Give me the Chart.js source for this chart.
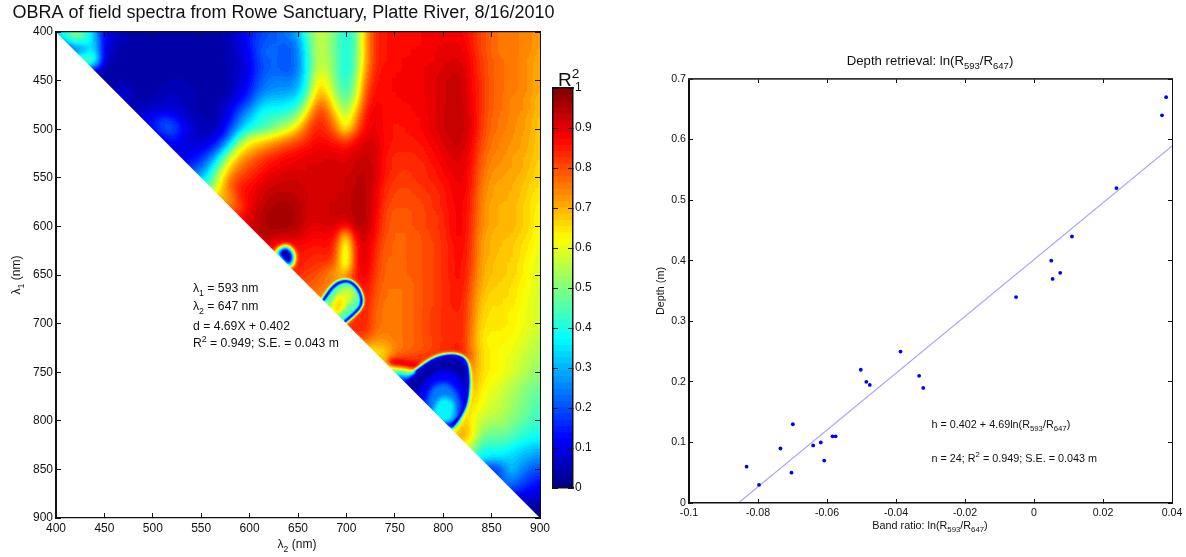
<!DOCTYPE html>
<html><head><meta charset="utf-8">
<style>
html,body{margin:0;padding:0;background:#fff;width:1186px;height:557px;overflow:hidden}
canvas{position:absolute;top:0;display:block}
</style>
<script src="https://cdn.jsdelivr.net/npm/chart.js"></script>
</head><body>
<canvas id="heat" width="567" height="557" style="left:0"></canvas>
<canvas id="bar" width="70" height="557" style="left:540px"></canvas>
<canvas id="fit" width="546" height="557" style="left:640px"></canvas>
<script>
const r400=[30,45,55,45,30,12,8,5,4,3,3,3,3,3,3,3,3,4,6,10,14,18,20,22,25,30,45,58,55,48,38,45,70,84,86,87,87,87,88,88,88,89,88,85,81,78,76,76,75,74,72];
const r410=[30,45,42,35,12,7,5,4,3,3,3,3,3,3,3,3,4,6,9,14,19,21,22,22,26,42,57,55,47,38,45,70,84,86,87,87,87,88,88,89,89,89,85,81,78,76,76,75,74,72];
const r420=[15,25,38,10,5,4,3,3,3,3,3,3,3,3,3,4,5,8,12,20,23,22,20,24,40,57,55,47,38,45,70,84,86,87,87,88,88,89,90,90,90,86,81,78,76,76,75,74,71];
const r430=[55,50,8,4,3,3,3,3,3,3,3,3,3,3,4,5,7,11,19,22,22,20,24,39,57,56,47,38,46,71,84,86,87,88,88,89,89,90,91,91,87,82,79,77,76,75,73,71];
const r440=[12,3,3,3,3,3,3,3,3,3,3,3,3,3,5,7,10,18,22,22,20,24,38,58,58,47,37,47,73,85,87,87,88,89,89,90,91,92,92,87,82,79,77,76,75,73,70];
const r450=[3,3,3,3,3,3,3,5,5,4,3,3,3,5,8,12,20,24,25,24,27,40,64,62,48,40,50,76,86,87,88,89,89,89,90,92,93,93,88,83,79,77,76,75,73,70];
const r460=[5,8,4,3,4,5,6,6,5,4,3,4,5,9,14,22,26,27,27,30,42,68,65,50,42,52,80,87,87,88,89,89,89,90,92,93,93,88,83,79,77,76,75,73,70];
const r470=[10,5,4,5,6,7,6,5,4,4,4,7,12,18,28,32,32,33,36,50,74,72,55,45,58,82,88,87,87,88,88,89,90,92,93,93,89,83,79,77,75,74,72,69];
const r480=[5,6,7,8,8,7,5,4,4,5,10,18,25,35,38,38,40,44,62,80,78,62,50,65,85,89,87,87,87,88,89,90,92,94,93,89,83,79,77,75,74,72,69];
const r490=[10,13,18,16,10,7,5,4,6,13,24,33,40,43,45,47,55,72,84,82,70,55,72,87,90,87,86,87,87,88,90,92,94,93,90,82,78,76,75,73,71,68];
const r500=[12,20,23,14,8,6,5,8,18,30,38,42,46,52,58,68,80,85,84,76,60,78,88,90,87,86,86,87,88,90,92,94,93,90,82,78,76,74,73,71,68];
const r510=[10,16,11,8,7,8,13,26,45,58,62,65,70,74,78,83,87,86,83,78,86,90,91,87,86,86,86,87,89,91,93,93,89,81,77,75,74,72,70,68];
const r520=[9,9,9,10,14,24,42,60,68,72,76,80,83,85,87,89,89,88,87,90,92,92,87,85,85,85,86,88,90,92,92,88,80,76,75,73,72,70,67];
const r530=[10,12,16,24,38,58,70,76,80,84,86,88,89,90,90,91,91,90,92,93,92,86,84,83,84,85,87,89,91,91,87,79,75,74,72,71,69,67];
const r540=[16,22,33,50,68,76,81,84,87,89,90,90,91,91,91,91,91,93,94,92,86,84,83,83,84,86,88,90,91,86,78,74,73,72,71,69,66];
const r550=[30,42,60,75,81,84,87,90,91,92,92,91,91,92,92,92,94,94,92,85,83,82,83,84,85,87,89,90,85,77,73,72,71,70,68,66];
const r560=[45,65,78,85,87,90,92,93,93,93,92,92,92,92,92,94,95,91,84,82,81,82,83,84,86,88,90,85,76,72,71,71,69,67,65];
const r570=[68,72,85,88,91,94,95,95,94,92,92,92,92,93,95,95,90,83,81,80,81,82,83,85,88,89,84,75,72,71,70,69,66,64];
const r580=[75,80,89,93,95,96,96,95,92,91,92,93,93,95,95,90,82,80,80,80,81,83,85,87,89,84,75,71,70,70,68,66,63];
const r590=[85,90,94,96,97,97,95,92,91,92,93,92,95,95,89,81,79,79,80,81,82,84,87,89,83,74,71,70,70,68,66,62];
const r600=[90,94,96,97,97,95,91,90,91,91,88,94,95,88,81,79,79,80,81,82,84,87,89,83,74,71,70,70,68,66,62];
const r610=[94,95,93,92,92,89,88,89,88,62,92,93,87,80,78,78,79,80,82,83,87,89,82,73,70,69,69,67,65,61];
const r620=[90,86,86,88,87,86,87,84,52,88,92,85,79,78,78,79,80,81,83,86,88,82,72,70,69,68,66,64,60];
const r630=[86,86,86,85,84,85,82,50,88,92,84,79,78,78,79,80,81,83,86,88,81,72,70,68,68,66,63,60];
const r640=[86,86,84,83,82,78,52,88,91,83,78,77,78,79,80,81,83,86,87,81,71,69,68,67,65,62,59];
const r650=[84,82,80,76,70,70,86,90,82,78,77,78,79,80,81,83,86,87,80,71,69,68,67,65,62,59];
const r660=[80,78,76,76,78,85,88,81,77,77,77,78,80,81,83,85,87,79,70,68,67,66,64,61,59];
const r670=[76,74,76,78,84,87,80,77,76,77,78,80,81,83,85,86,78,69,67,66,66,63,61,58];
const r680=[74,76,78,84,86,79,76,76,77,78,80,81,83,85,86,77,68,66,66,65,63,60,58];
const r690=[75,78,84,86,78,76,76,77,78,80,82,83,84,85,77,67,65,65,64,62,60,58];
const r700=[80,84,85,78,76,76,77,78,80,82,83,84,85,76,66,65,65,64,62,60,58];
const r710=[84,84,77,75,76,77,78,80,82,83,84,85,75,65,64,64,63,61,59,57];
const r720=[76,72,73,75,77,78,80,81,83,84,85,74,65,63,63,62,60,58,55];
const r730=[63,65,74,77,79,80,82,84,85,86,76,66,64,62,61,59,56,54];
const r740=[72,86,87,85,85,85,85,85,85,76,66,64,62,60,58,55,53];
const r750=[40,48,42,75,78,78,78,78,78,74,66,64,62,60,57,54,51];
const r760=[10,5,40,40,40,60,72,72,65,62,60,57,54,51,50];
const r770=[8,12,15,15,40,68,70,63,60,58,55,52,49,47];
const r780=[25,30,35,30,66,68,62,59,57,54,51,48,45];
const r790=[40,40,30,68,66,60,58,56,53,50,47,43];
const r800=[35,20,72,62,57,55,54,51,48,45,42];
const r810=[60,74,65,53,50,50,48,44,42,40];
const r820=[72,62,47,46,46,44,41,38,36];
const r830=[55,40,40,40,37,34,32,30];
const r840=[38,33,33,33,30,28,25];
const r850=[15,20,33,27,22,20];
const r860=[20,28,22,18,15];
const r870=[20,18,13,11];
const r880=[8,8,7];
const r890=[3,3];
const r900=[2];
const mapRows=[r400,r410,r420,r430,r440,r450,r460,r470,r480,r490,r500,r510,r520,r530,r540,r550,r560,r570,r580,r590,r600,r610,r620,r630,r640,r650,r660,r670,r680,r690,r700,r710,r720,r730,r740,r750,r760,r770,r780,r790,r800,r810,r820,r830,r840,r850,r860,r870,r880,r890,r900];

// Sharp low-R2 pockets, traced on the map as [lambda2],[lambda1] outlines with their R2 level
const pocketA_x=[627,637,644,645,641,628,627], pocketA_y=[627,621,626,635,641,628,627], pocketA_v=2;
const pocketB_x=[676,686.5,697,707,715,714,698.6,690,676], pocketB_y=[676,662,656.4,659,671,683,698,700,676], pocketB_v=45;
const pocketB2_x=[683,691,699,707,708,698,690,682,683], pocketB2_y=[682,668,663,666,674,684,692,690,682], pocketB2_v=58;
const pocketB3_x=[686,694,698,694,688,686], pocketB3_y=[679,672,680,688,689,679], pocketB3_v=66;
const ringB_x=[676,686.5,697,707,715,714,698.6], ringB_y=[676,662,656.4,659,671,683,698];
const ridgeC_x=[746,760,774], ridgeC_y=[740,742,744], ridgeC_v=94;
const pocketC_x=[762,772,790,803,817,824,826,823.5,817,809,800,762], pocketC_y=[760,749,737,733,734,741,761.6,782,796,806,806,760], pocketC_v=3;
const pocketC2_x=[774,786,804,818,821,814,790,774], pocketC2_y=[771,755,748,758,778,797,800,771], pocketC2_v=12;
const pocketC3_x=[783,790,804,814,817,811,790,783], pocketC3_y=[780,765,762,772,786,801,800,780], pocketC3_v=24;
const pocketC4_x=[790,797,809,811,805,790,790], pocketC4_y=[789,777,779,792,802,795,789], pocketC4_v=37;
const ringC_x=[772,790,803,817,824,826,823.5,817,809], ringC_y=[749,737,733,734,741,761.6,782,796,806];
const ring_v=2;

// Depth retrieval points
const ratio=[-0.0833,-0.0797,-0.0735,-0.0703,-0.0699,-0.064,-0.0618,-0.0608,-0.0584,-0.0575,-0.0502,-0.0486,-0.0476,-0.0387,-0.0333,-0.0321,-0.0052,0.005,0.0054,0.0076,0.011,0.0239,0.0371,0.0383];
const depth=[0.06,0.03,0.09,0.05,0.13,0.095,0.1,0.07,0.11,0.11,0.22,0.2,0.195,0.25,0.21,0.19,0.34,0.4,0.37,0.38,0.44,0.52,0.64,0.67];
const fitX=[-0.0857,0.04];
const fitY=[0,0.5896];

const FONT='"Liberation Sans",Arial,sans-serif', INK='#111';
const clamp=v=>Math.max(0,Math.min(1,v));
function jet(v){const l=Math.min(63,Math.floor(v*64)),t=(l+.5)/64;
  return [clamp(1.5-Math.abs(4*t-3)),clamp(1.5-Math.abs(4*t-2)),clamp(1.5-Math.abs(4*t-1))].map(c=>Math.round(c*255));}
const grey=p=>{const g=Math.round(clamp(p/100)*255);return `rgb(${g},${g},${g})`;};
const pts=(xs,ys)=>xs.map((x,i)=>({x,y:ys[i]}));

function rich(ctx,x,y,size,segs,opt={}){
  ctx.save();ctx.fillStyle=opt.color||INK;ctx.textBaseline='alphabetic';ctx.textAlign='left';
  const fs=m=>m?size*.72:size;
  let w=0;segs.forEach(([t,m])=>{ctx.font=`${fs(m)}px ${FONT}`;w+=ctx.measureText(t).width;});
  ctx.translate(x,y);if(opt.rot)ctx.rotate(opt.rot);
  let cx=opt.center?-w/2:0;
  segs.forEach(([t,m])=>{ctx.font=`${fs(m)}px ${FONT}`;
    const dy=m==='sub'?size*.3:m==='sup'?-size*.42:0;
    ctx.fillText(t,cx,dy);cx+=ctx.measureText(t).width;});
  ctx.restore();
}
const fixedH=h=>s=>{s.height=h;s.paddingLeft=s.paddingRight=s.paddingTop=s.paddingBottom=0;};
const fixedW=w=>s=>{s.width=w;s.paddingLeft=s.paddingRight=s.paddingTop=s.paddingBottom=0;};
function axis(o){ // shared box-axis look: inward tick marks, drawn above the data
  const lab=o.labels!==false;
  return {type:'linear',position:o.pos,min:o.min,max:o.max,reverse:!!o.rev,offset:false,
    afterFit:(o.pos==='top'||o.pos==='bottom')?fixedH(o.size||0):fixedW(o.size||0),
    border:{display:true,color:o.bc||'#111',width:o.bw||1,z:2},
    grid:{drawOnChartArea:false,drawTicks:true,offset:false,tickLength:-(o.tl||5),color:'#111',lineWidth:1,z:2},
    ticks:{display:lab,stepSize:o.step,autoSkip:false,maxRotation:0,minRotation:0,includeBounds:true,z:2,
      padding:(o.pad||3)+(o.tl||5),color:INK,font:{family:FONT,size:o.fs||12},callback:o.cb||(v=>String(v))}};
}

/* ---------- OBRA map ---------- */
function blurPlot(chart,sigma){
  const a=chart.chartArea,c=chart.canvas,l=Math.round(a.left),t=Math.round(a.top),w=Math.round(a.right-a.left),h=Math.round(a.bottom-a.top),p=24;
  const tmp=document.createElement('canvas');tmp.width=w+2*p;tmp.height=h+2*p;const g=tmp.getContext('2d');
  g.drawImage(c,l,t,w,h,p,p,w,h);
  g.drawImage(c,l,t,1,h,0,p,p,h);g.drawImage(c,l+w-1,t,1,h,p+w,p,p,h);
  g.drawImage(tmp,0,p,w+2*p,1,0,0,w+2*p,p);g.drawImage(tmp,0,p+h-1,w+2*p,1,0,p+h,w+2*p,p);
  const x=chart.ctx;x.save();x.beginPath();x.rect(l,t,w,h);x.clip();x.filter=`blur(${sigma}px)`;x.drawImage(tmp,l-p,t-p);x.restore();
}
const mapPlugin={id:'mapPlugin',
  afterDatasetDraw(chart,args){const s=chart.data.datasets[args.index].blurAfter;if(s)blurPlot(chart,s);},
  afterDatasetsDraw(chart){
    const a=chart.chartArea,x=chart.ctx,l=Math.round(a.left),t=Math.round(a.top),w=Math.round(a.right-a.left),h=Math.round(a.bottom-a.top);
    const im=x.getImageData(l,t,w,h),d=im.data,lut=[];for(let i=0;i<256;i++)lut.push(jet(i/255));
    for(let i=0;i<d.length;i+=4){const c=lut[d[i]];d[i]=c[0];d[i+1]=c[1];d[i+2]=c[2];d[i+3]=255;}
    x.putImageData(im,l,t);
    const sx=chart.scales.x,sy=chart.scales.y;
    x.save();x.fillStyle='#fff';x.beginPath();
    x.moveTo(sx.getPixelForValue(400),sy.getPixelForValue(400));
    x.lineTo(sx.getPixelForValue(900),sy.getPixelForValue(900));
    x.lineTo(sx.getPixelForValue(400),sy.getPixelForValue(900));x.closePath();x.fill();x.restore();
  },
  afterDraw(chart){const x=chart.ctx;
    rich(x,297,548,12,[['λ'],['2','sub'],[' (nm)']],{center:true});
    rich(x,20,275,12,[['λ'],['1','sub'],[' (nm)']],{center:true,rot:-Math.PI/2});
    rich(x,193,292,12.2,[['λ'],['1','sub'],[' = 593 nm']]);
    rich(x,193,310,12.2,[['λ'],['2','sub'],[' = 647 nm']]);
    rich(x,193,330,12.2,[['d = 4.69X + 0.402']]);
    rich(x,193,347,12.2,[['R'],['2','sup'],[' = 0.949; S.E. = 0.043 m']]);
  }};
const cells=[];
mapRows.forEach((row,i)=>{const l1=400+10*i,start=900-10*(row.length-1);
  cells.push({x:start-20,y:l1,v:row[0]},{x:start-10,y:l1,v:row[0]});
  row.forEach((v,k)=>cells.push({x:start+10*k,y:l1,v}));});
const poly=(xs,ys,v,extra={})=>Object.assign({data:pts(xs,ys),showLine:true,fill:'shape',tension:.35,pointRadius:0,
  borderColor:grey(v),backgroundColor:grey(v),borderWidth:1,borderJoinStyle:'round'},extra);
const ring=(xs,ys,v,w,extra={})=>Object.assign({data:pts(xs,ys),showLine:true,fill:false,tension:.35,pointRadius:0,
  borderColor:grey(v),borderWidth:w,borderCapStyle:'round'},extra);
const mapSets=[
  {data:cells,pointStyle:'rect',pointBorderWidth:0,blurAfter:4.2,
   pointRadius:c=>10.8/Math.SQRT2,pointBackgroundColor:c=>grey(c.raw?c.raw.v:0),pointBorderColor:'transparent'},
  ring(ridgeC_x,ridgeC_y,ridgeC_v,6),
  poly(pocketA_x,pocketA_y,pocketA_v,{blurAfter:1.5}),
  poly(pocketB_x,pocketB_y,pocketB_v),poly(pocketB2_x,pocketB2_y,pocketB2_v),poly(pocketB3_x,pocketB3_y,pocketB3_v),
  poly(pocketC_x,pocketC_y,pocketC_v),poly(pocketC2_x,pocketC2_y,pocketC2_v),poly(pocketC3_x,pocketC3_y,pocketC3_v),poly(pocketC4_x,pocketC4_y,pocketC4_v,{blurAfter:2.2}),
  ring(ringB_x,ringB_y,ring_v,3),ring(ringC_x,ringC_y,ring_v,2.5,{blurAfter:.8})
];
mapSets.forEach((d,i)=>{d.order=mapSets.length-i;});
new Chart(document.getElementById('heat'),{type:'scatter',plugins:[mapPlugin],
  data:{datasets:mapSets},
  options:{responsive:false,animation:false,events:[],devicePixelRatio:1,
    layout:{padding:0},
    plugins:{legend:{display:false},tooltip:{enabled:false},
      title:{display:true,text:'OBRA of field spectra from Rowe Sanctuary, Platte River, 8/16/2010',color:INK,
        font:{family:FONT,size:18,weight:'normal',lineHeight:1.2},padding:{top:2,bottom:8.4}}},
    scales:{
      x:axis({pos:'bottom',min:400,max:900,step:50,size:39,bw:1.2}),
      y:axis({pos:'left',min:400,max:900,step:50,rev:true,size:56,bw:2}),
      x2:axis({pos:'top',min:400,max:900,step:50,labels:false,bw:1.2}),
      y2:axis({pos:'right',min:400,max:900,step:50,rev:true,labels:false,bw:1,size:27})
    }}});

/* ---------- colour bar ---------- */
const barLevels=Array.from({length:64},(_,i)=>i);
new Chart(document.getElementById('bar'),{type:'bar',
  plugins:[{id:'barTitle',afterDraw(c){rich(c.ctx,18,86,19,[['R'],['2','sup']]);}}],
  data:{labels:barLevels,datasets:[{data:barLevels.map(()=>1),xAxisID:'v',yAxisID:'c',barPercentage:1,categoryPercentage:1,inflateAmount:.6,
    backgroundColor:barLevels.map(i=>`rgb(${jet((i+.5)/64).join(',')})`)}]},
  options:{indexAxis:'y',responsive:false,animation:false,events:[],devicePixelRatio:1,
    layout:{padding:{left:13,right:0,top:88,bottom:0}},
    plugins:{legend:{display:false},tooltip:{enabled:false}},
    scales:{
      v:{type:'linear',min:0,max:1,position:'bottom',display:false},
      c:{type:'category',reverse:true,position:'left',display:false},
      tr:axis({pos:'right',min:0,max:1,step:.1,size:37,bw:1.5,pad:2,cb:v=>String(Math.round(v*10)/10)}),
      tl:axis({pos:'left',min:0,max:1,step:.1,labels:false,bw:1.5}),
      tb:Object.assign(axis({pos:'bottom',min:0,max:1,step:2,labels:false,size:69,bw:1.5}),{grid:{display:false}}),
      tt:Object.assign(axis({pos:'top',min:0,max:1,step:2,labels:false,bw:1.5}),{grid:{display:false}})
    }}});

/* ---------- depth retrieval ---------- */
const fitPlugin={id:'fitText',afterDraw(c){const x=c.ctx,o=-640;
  const ln=[['ln(R'],['593','sub'],['/R'],['647','sub'],[')']];
  rich(x,930+o,65,13.2,[['Depth retrieval: '],...ln],{center:true});
  rich(x,930+o,529,10.8,[['Band ratio: '],...ln],{center:true});
  rich(x,664+o,291,10.8,[['Depth (m)']],{center:true,rot:-Math.PI/2});
  rich(x,931.5+o,428,10.8,[['h = 0.402 + 4.69'],...ln]);
  rich(x,931.5+o,462,10.8,[['n = 24; R'],['2','sup'],[' = 0.949; S.E. = 0.043 m']]);
}};
const tickFmt=v=>String(Number(v.toFixed(2)));
new Chart(document.getElementById('fit'),{type:'scatter',plugins:[fitPlugin],
  data:{datasets:[
    {data:pts(ratio,depth),pointRadius:1.9,pointBackgroundColor:'#0000f5',pointBorderWidth:0,order:1},
    {data:pts(fitX,fitY),showLine:true,pointRadius:0,borderColor:'#a8a8f8',borderWidth:1.2,order:2}
  ]},
  options:{responsive:false,animation:false,events:[],devicePixelRatio:1,
    layout:{padding:{left:0,right:14,top:79,bottom:0}},
    plugins:{legend:{display:false},tooltip:{enabled:false}},
    scales:{
      x:axis({pos:'bottom',min:-0.1,max:0.04,step:.02,size:54,fs:10.6,tl:4,pad:4,bw:1.5,cb:tickFmt}),
      y:axis({pos:'left',min:0,max:0.7,step:.1,size:49,fs:10.6,tl:4,pad:3,bw:2,cb:tickFmt}),
      x2:axis({pos:'top',min:-0.1,max:0.04,step:.02,labels:false,tl:4,bw:1.8,bc:'#333'}),
      y2:axis({pos:'right',min:0,max:0.7,step:.1,labels:false,tl:4,bw:1})
    }}});
</script>
</body></html>
